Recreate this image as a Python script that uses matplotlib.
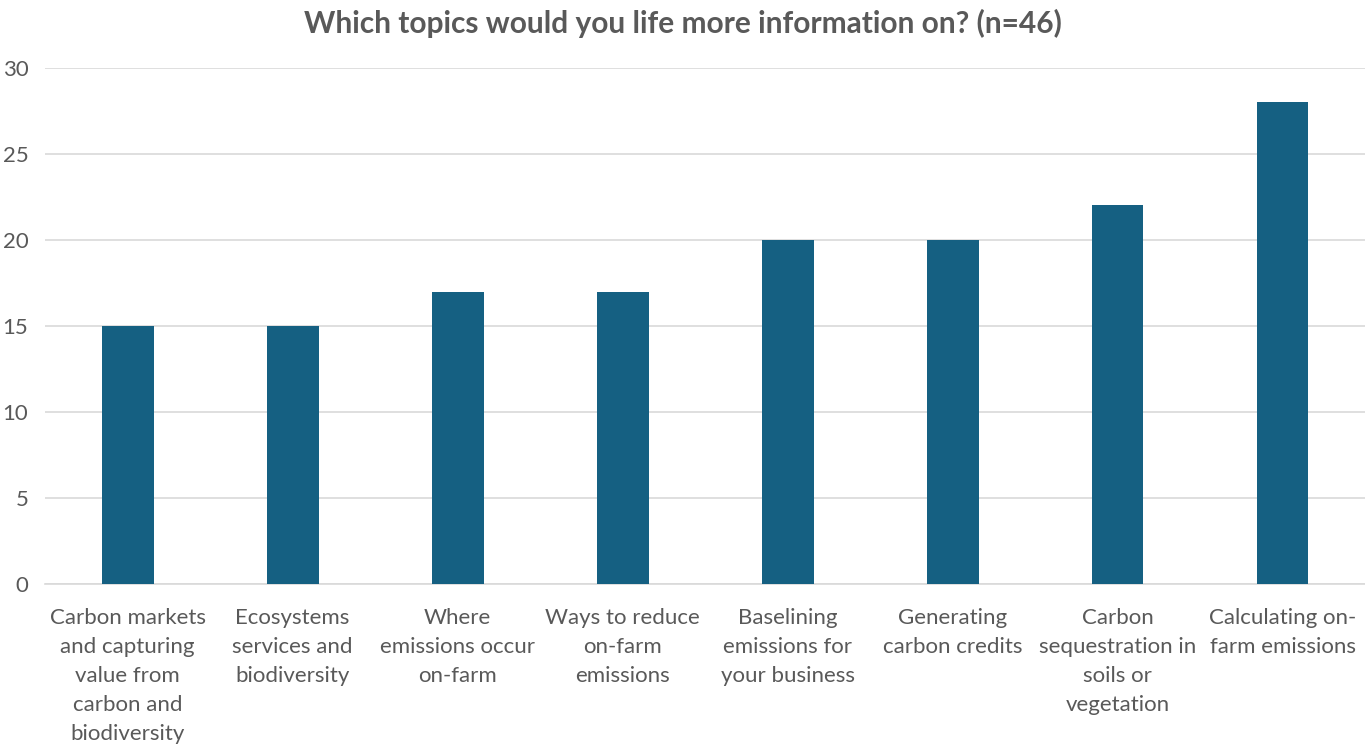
import matplotlib
matplotlib.use("Agg")
import matplotlib.pyplot as plt

categories = [
    "Carbon markets\nand capturing\nvalue from\ncarbon and\nbiodiversity",
    "Ecosystems\nservices and\nbiodiversity",
    "Where\nemissions occur\non-farm",
    "Ways to reduce\non-farm\nemissions",
    "Baselining\nemissions for\nyour business",
    "Generating\ncarbon credits",
    "Carbon\nsequestration in\nsoils or\nvegetation",
    "Calculating on-\nfarm emissions",
]
values = [15, 15, 17, 17, 20, 20, 22, 28]
yticks = [0, 5, 10, 15, 20, 25, 30]
title = "Which topics would you life more information on? (n=46)"

plt.rcParams['font.family'] = ['Lato', 'DejaVu Sans']
text_color = "#595959"

fig = plt.figure(figsize=(13.65, 7.45), dpi=100)
ax = fig.add_axes([0.033, 0.216, 0.967, 0.693])
x = range(len(categories))
ax.bar(x, values, width=0.315, color="#156082", zorder=3)
ax.set_xlim(-0.5, len(categories) - 0.5)
ax.set_ylim(0, 30)
ax.set_yticks(yticks)
ax.set_yticklabels([str(v) for v in yticks], fontsize=16, color=text_color)
ax.set_xticks(list(x))
ax.set_xticklabels(categories, fontsize=16, color=text_color, linespacing=1.56, va='top')
ax.tick_params(axis='both', length=0)
ax.tick_params(axis='x', pad=17)
ax.tick_params(axis='y', pad=12)
ax.grid(axis='y', color="#d9d9d9", linewidth=1.2, zorder=0)
for s in ['top', 'right', 'left']:
    ax.spines[s].set_visible(False)
ax.spines['bottom'].set_color("#d9d9d9")
ax.spines['bottom'].set_linewidth(1.2)
fig.text(0.5, 0.988, title, ha='center', va='top', fontsize=21.5, fontweight='bold', color="#595959")
fig.savefig("out.png", dpi=100)
